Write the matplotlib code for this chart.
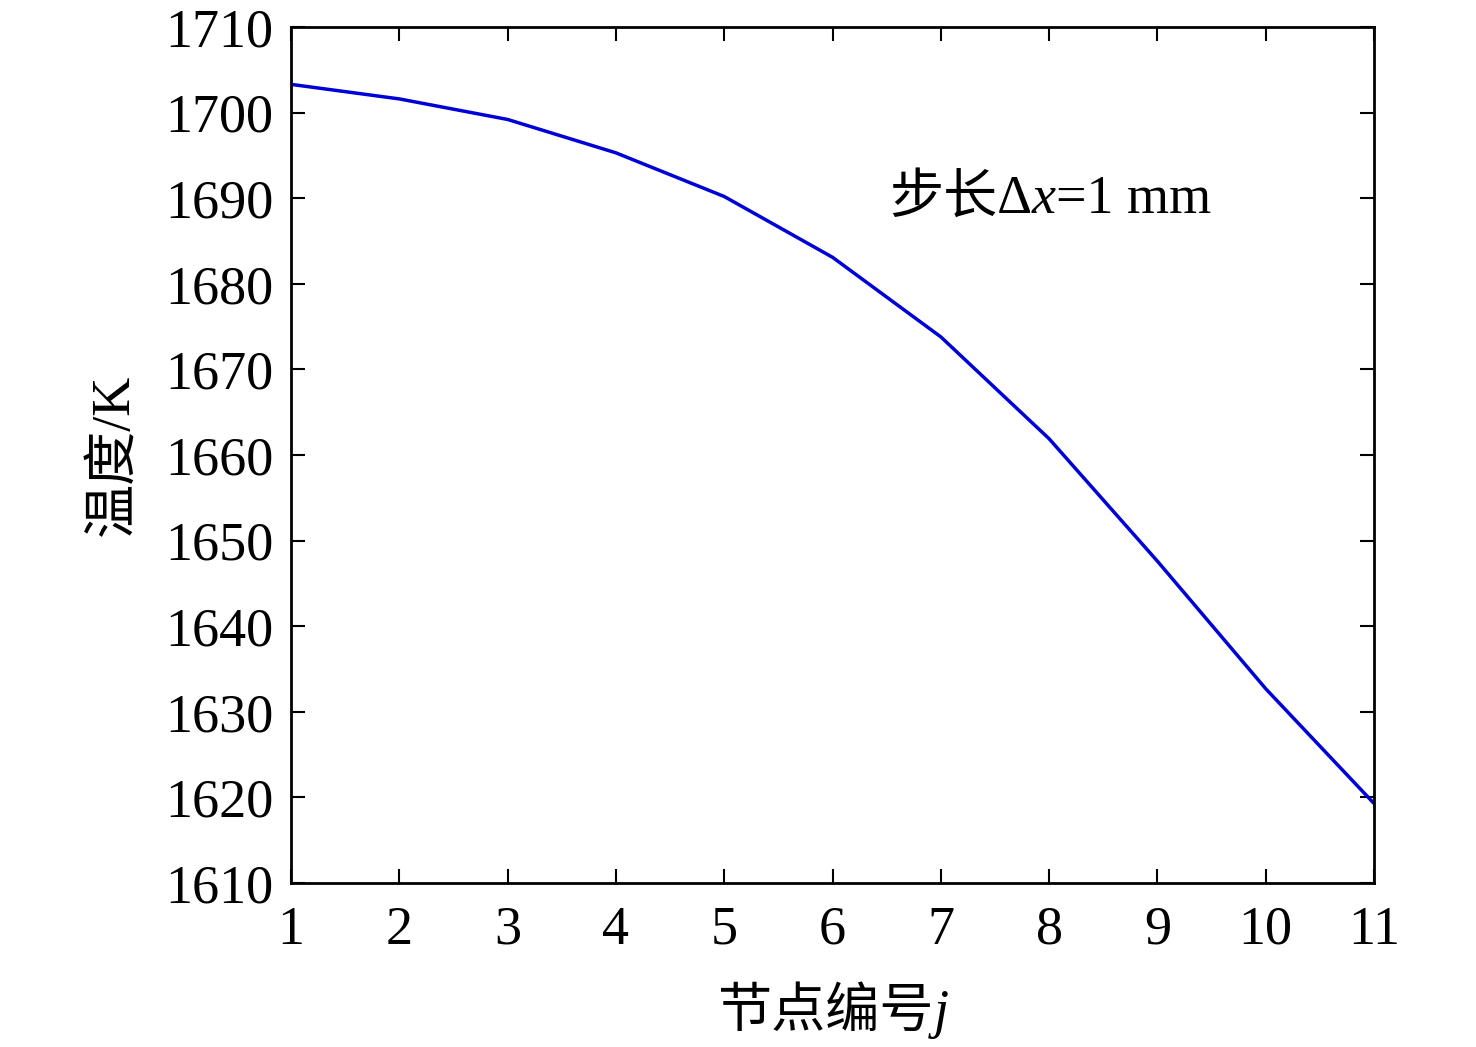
import numpy as np
import matplotlib
matplotlib.use("Agg")
import matplotlib.pyplot as plt
from matplotlib.offsetbox import TextArea, HPacker, AnnotationBbox

fams = ['Liberation Serif', 'Noto Sans CJK SC']
plt.rcParams['font.family'] = fams

# node number j and temperature (K)
nodes = np.arange(1, 12)
temp = [1703.3, 1701.6, 1699.2, 1695.3, 1690.2, 1683.1,
        1673.8, 1661.9, 1647.6, 1632.7, 1619.3]

xticks = list(range(1, 12))
yticks = list(range(1610, 1711, 10))

fs = 39

fig = plt.figure(figsize=(14.76, 10.47), dpi=100)
ax = fig.add_axes([0.1972, 0.1566, 0.7337, 0.8176])
ax.plot(nodes, temp, color='#0000d8', lw=2.5)

ax.set_xlim(1, 11)
ax.set_ylim(1610, 1710)
ax.set_xticks(xticks)
ax.set_yticks(yticks)
ax.tick_params(direction='in', length=10, width=1.5, labelsize=fs,
               top=True, right=True)
ax.tick_params(axis='y', pad=13)
ax.tick_params(axis='x', pad=16)
for s in ax.spines.values():
    s.set_linewidth(2)

ax.set_ylabel('温度/K', fontsize=fs, labelpad=18)


def mixed(parts):
    boxes = []
    for txt, it in parts:
        boxes.append(TextArea(txt, textprops=dict(fontsize=fs, family=fams,
                                                  style='italic' if it else 'normal')))
    return HPacker(children=boxes, align='baseline', pad=0, sep=0)


xl = AnnotationBbox(mixed([('节点编号', False), ('j', True)]), (0.5, -0.153),
                    xycoords='axes fraction', frameon=False, box_alignment=(0.5, 0.5),
                    annotation_clip=False)
ax.add_artist(xl)

note = AnnotationBbox(mixed([('步长Δ', False), ('x', True), ('=1 mm', False)]),
                      (6.52, 1689.8), xycoords='data', frameon=False,
                      box_alignment=(0, 0.5))
ax.add_artist(note)

fig.savefig('out.png', dpi=100)
